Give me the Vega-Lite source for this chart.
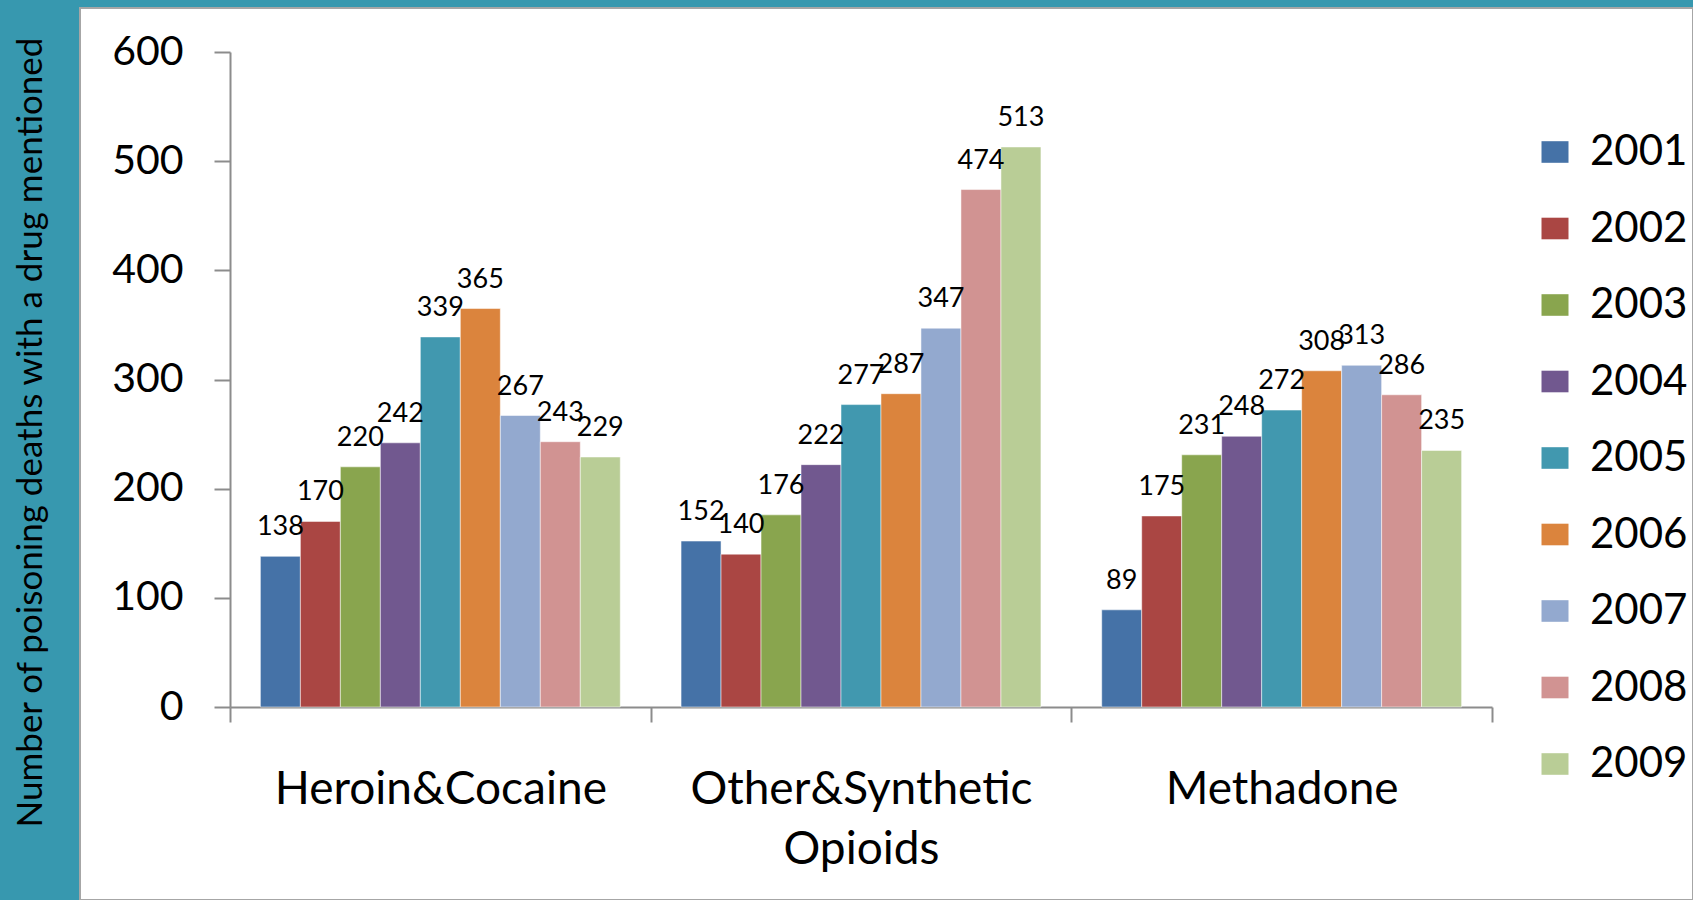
{
  "$schema": "https://vega.github.io/schema/vega-lite/v6.json",
  "width": 1613,
  "height": 892,
  "padding": {"left": 80, "top": 8, "right": 0, "bottom": 0},
  "autosize": {"type": "none"},
  "background": "#3798AF",
  "config": {
    "font": "Lato",
    "view": {"fill": "white", "stroke": "#A6A6A6", "strokeWidth": 2}
  },
  "data": {
    "values": [
      {"drug": "Heroin&Cocaine", "year": "2001", "deaths": 138},
      {"drug": "Heroin&Cocaine", "year": "2002", "deaths": 170},
      {"drug": "Heroin&Cocaine", "year": "2003", "deaths": 220},
      {"drug": "Heroin&Cocaine", "year": "2004", "deaths": 242},
      {"drug": "Heroin&Cocaine", "year": "2005", "deaths": 339},
      {"drug": "Heroin&Cocaine", "year": "2006", "deaths": 365},
      {"drug": "Heroin&Cocaine", "year": "2007", "deaths": 267},
      {"drug": "Heroin&Cocaine", "year": "2008", "deaths": 243},
      {"drug": "Heroin&Cocaine", "year": "2009", "deaths": 229},
      {"drug": "Other&Synthetic Opioids", "year": "2001", "deaths": 152},
      {"drug": "Other&Synthetic Opioids", "year": "2002", "deaths": 140},
      {"drug": "Other&Synthetic Opioids", "year": "2003", "deaths": 176},
      {"drug": "Other&Synthetic Opioids", "year": "2004", "deaths": 222},
      {"drug": "Other&Synthetic Opioids", "year": "2005", "deaths": 277},
      {"drug": "Other&Synthetic Opioids", "year": "2006", "deaths": 287},
      {"drug": "Other&Synthetic Opioids", "year": "2007", "deaths": 347},
      {"drug": "Other&Synthetic Opioids", "year": "2008", "deaths": 474},
      {"drug": "Other&Synthetic Opioids", "year": "2009", "deaths": 513},
      {"drug": "Methadone", "year": "2001", "deaths": 89},
      {"drug": "Methadone", "year": "2002", "deaths": 175},
      {"drug": "Methadone", "year": "2003", "deaths": 231},
      {"drug": "Methadone", "year": "2004", "deaths": 248},
      {"drug": "Methadone", "year": "2005", "deaths": 272},
      {"drug": "Methadone", "year": "2006", "deaths": 308},
      {"drug": "Methadone", "year": "2007", "deaths": 313},
      {"drug": "Methadone", "year": "2008", "deaths": 286},
      {"drug": "Methadone", "year": "2009", "deaths": 235}
    ]
  },
  "encoding": {
    "x": {
      "field": "drug",
      "type": "nominal",
      "sort": ["Heroin&Cocaine", "Other&Synthetic Opioids", "Methadone"],
      "scale": {"range": [150, 1412], "paddingInner": 0, "paddingOuter": 0},
      "axis": {
        "title": null,
        "offset": -193,
        "labelAngle": 0,
        "labelExpr": "split(datum.label, ' ')",
        "labelLineHeight": 60,
        "labelFontSize": 46,
        "labelColor": "black",
        "labelLimit": 0,
        "labelPadding": 45,
        "labelOverlap": false,
        "tickBand": "extent",
        "tickSize": 15,
        "tickColor": "#8C8C8C",
        "tickWidth": 2,
        "domainColor": "#8C8C8C",
        "domainWidth": 2
      }
    },
    "xOffset": {
      "field": "year",
      "type": "nominal",
      "scale": {"paddingInner": 0, "paddingOuter": 0.76}
    },
    "y": {
      "field": "deaths",
      "type": "quantitative",
      "scale": {"domain": [0, 600], "range": [699, 44], "nice": false},
      "axis": {
        "title": "Number of poisoning deaths with a drug mentioned",
        "titleFontSize": 35,
        "titleFontWeight": "normal",
        "titleColor": "black",
        "titleX": -200,
        "titleY": 424,
        "titleAngle": -90,
        "titleAlign": "center",
        "titleBaseline": "middle",
        "offset": -150,
        "values": [0, 100, 200, 300, 400, 500, 600],
        "grid": false,
        "labelFontSize": 41,
        "labelColor": "black",
        "labelPadding": 31,
        "tickSize": 16,
        "tickColor": "#8C8C8C",
        "tickWidth": 2,
        "domainColor": "#8C8C8C",
        "domainWidth": 2
      }
    }
  },
  "layer": [
    {
      "mark": {"type": "bar", "stroke": "white", "strokeWidth": 1, "strokeOpacity": 0.5},
      "encoding": {
        "color": {
          "field": "year",
          "type": "nominal",
          "scale": {
            "domain": ["2001", "2002", "2003", "2004", "2005", "2006", "2007", "2008", "2009"],
            "range": ["#4572A7", "#AA4643", "#89A54E", "#71588F", "#4198AF", "#DB843D", "#93A9CF", "#D19392", "#B9CD96"]
          },
          "legend": {
            "title": null,
            "orient": "none",
            "legendX": 1454,
            "legendY": 123,
            "padding": 0,
            "labelFontSize": 42,
            "labelColor": "black",
            "labelOffset": 14,
            "rowPadding": 34.5,
            "symbolType": "M-1,-0.8H1V0.8H-1Z",
            "symbolSize": 729,
            "symbolStrokeWidth": 0
          }
        }
      }
    },
    {
      "mark": {"type": "text", "baseline": "alphabetic", "dy": -21, "fontSize": 27, "color": "black"},
      "encoding": {"text": {"field": "deaths", "type": "quantitative"}}
    }
  ]
}
